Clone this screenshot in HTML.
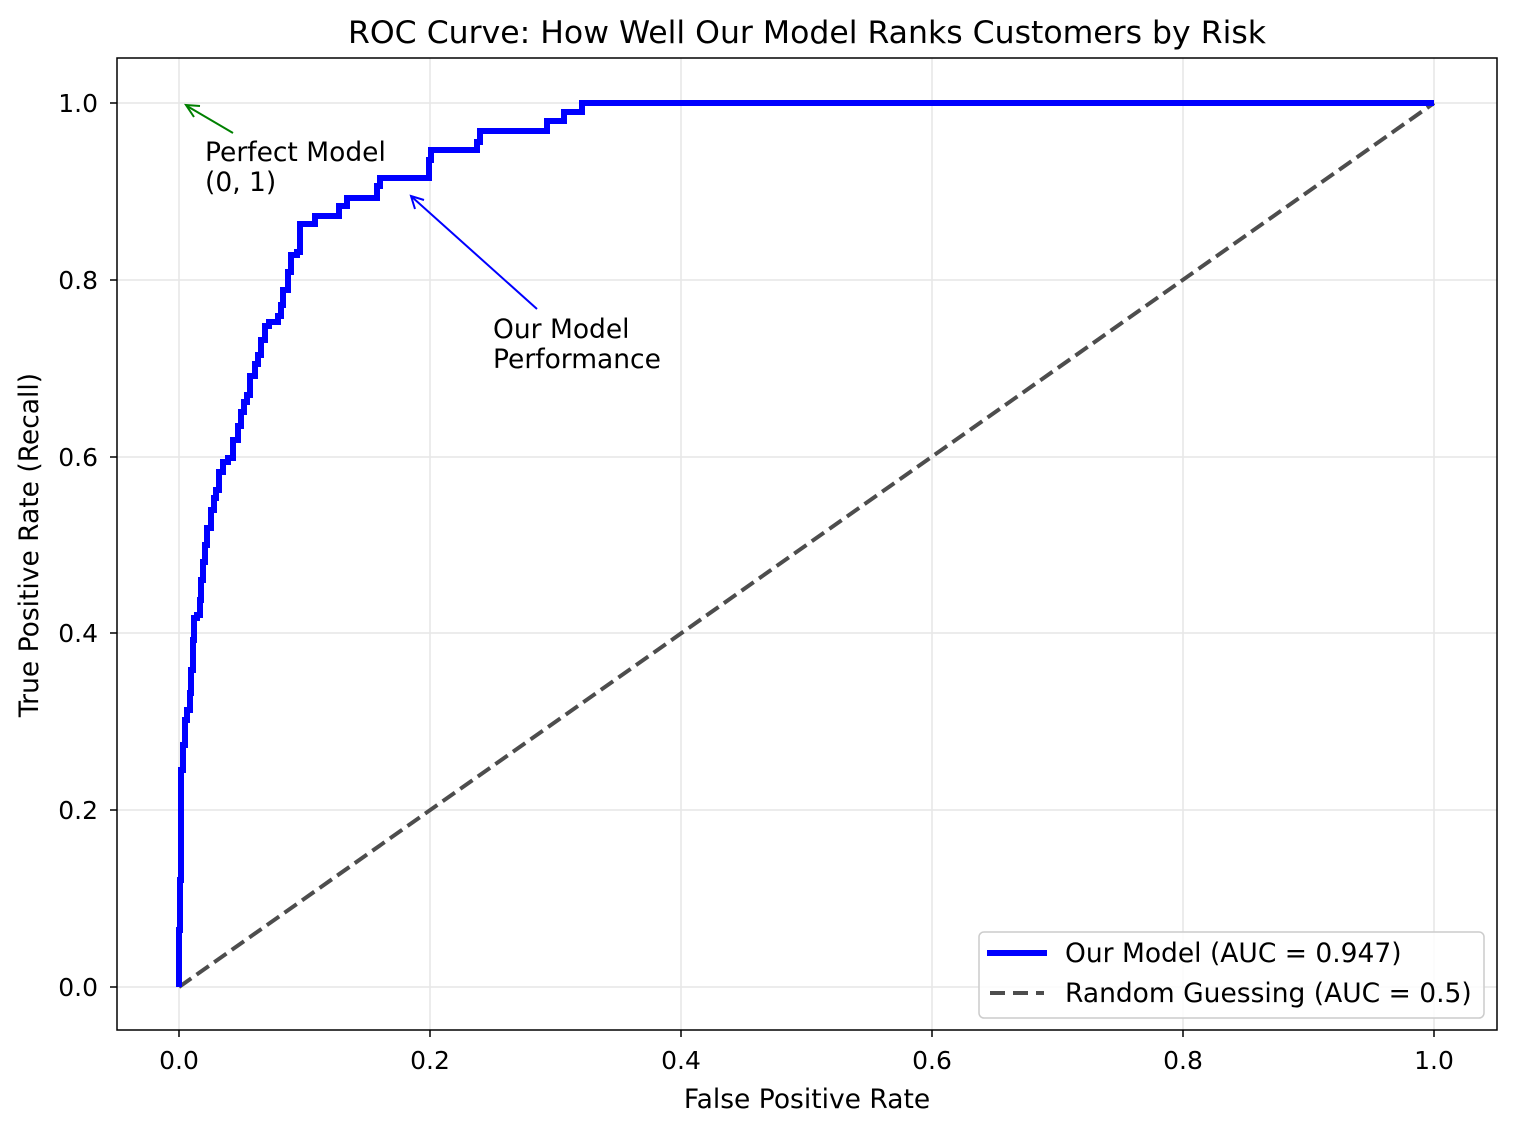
<!DOCTYPE html>
<html><head><meta charset="utf-8"><style>html,body{margin:0;padding:0;background:#fff}</style></head>
<body>
<svg width="1516" height="1132" xmlns="http://www.w3.org/2000/svg" font-family="DejaVu Sans, Liberation Sans, sans-serif">
<rect width="1516" height="1132" fill="#fff"/>
<g stroke="#e6e6e6" stroke-width="1.5">
<line x1="179" y1="58" x2="179" y2="1030"/><line x1="430" y1="58" x2="430" y2="1030"/><line x1="681" y1="58" x2="681" y2="1030"/><line x1="932" y1="58" x2="932" y2="1030"/><line x1="1183" y1="58" x2="1183" y2="1030"/><line x1="1434" y1="58" x2="1434" y2="1030"/>
<line x1="117" y1="987" x2="1497" y2="987"/><line x1="117" y1="810" x2="1497" y2="810"/><line x1="117" y1="633" x2="1497" y2="633"/><line x1="117" y1="457" x2="1497" y2="457"/><line x1="117" y1="280" x2="1497" y2="280"/><line x1="117" y1="103" x2="1497" y2="103"/>
</g>
<line x1="179" y1="987" x2="1434" y2="103" stroke="#4d4d4d" stroke-width="4" stroke-dasharray="15,6.5"/>
<polyline fill="none" stroke="#0000ff" stroke-width="6" stroke-linejoin="miter" points="179,987 179,930 180,930 180,880 181,880 181,770 183,770 183,745 185,745 185,720 187,720 187,710 190,710 190,693 191,693 191,670 193,670 193,640 194,640 194,618 197,618 197,615 200,615 200,600 201,600 201,580 203,580 203,562 205,562 205,545 207,545 207,528 211,528 211,510 214,510 214,498 216,498 216,490 219,490 219,472 223,472 223,462 228,462 228,458 233,458 233,440 238,440 238,426 241,426 241,412 244,412 244,402 247,402 247,395 250,395 250,376 255,376 255,364 258,364 258,355 261,355 261,340 265,340 265,326 269,326 269,322 278,322 278,316 281,316 281,305 283,305 283,290 288,290 288,272 291,272 291,255 297,255 297,252 300,252 300,224 315,224 315,216 339,216 339,206 347,206 347,198 377,198 377,186 380,186 380,178 429,178 429,160 431,160 431,150 477,150 477,142 480,142 480,131 547,131 547,121 564,121 564,112 582,112 582,103 1434,103"/>
<rect x="117" y="58" width="1380" height="972" fill="none" stroke="#000" stroke-width="1.5"/>
<g stroke="#000" stroke-width="1.5">
<line x1="179" y1="1030" x2="179" y2="1037"/><line x1="430" y1="1030" x2="430" y2="1037"/><line x1="681" y1="1030" x2="681" y2="1037"/><line x1="932" y1="1030" x2="932" y2="1037"/><line x1="1183" y1="1030" x2="1183" y2="1037"/><line x1="1434" y1="1030" x2="1434" y2="1037"/>
<line x1="110" y1="987" x2="117" y2="987"/><line x1="110" y1="810" x2="117" y2="810"/><line x1="110" y1="633" x2="117" y2="633"/><line x1="110" y1="457" x2="117" y2="457"/><line x1="110" y1="280" x2="117" y2="280"/><line x1="110" y1="103" x2="117" y2="103"/>
</g>
<g font-size="25" fill="#000" text-anchor="middle">
<text x="179" y="1069">0.0</text><text x="430" y="1069">0.2</text><text x="681" y="1069">0.4</text><text x="932" y="1069">0.6</text><text x="1183" y="1069">0.8</text><text x="1434" y="1069">1.0</text>
</g>
<g font-size="25" fill="#000" text-anchor="end">
<text x="98" y="996">0.0</text><text x="98" y="819">0.2</text><text x="98" y="642">0.4</text><text x="98" y="466">0.6</text><text x="98" y="289">0.8</text><text x="98" y="112">1.0</text>
</g>
<text x="807" y="1108" font-size="26.5" text-anchor="middle">False Positive Rate</text>
<text transform="translate(38,545) rotate(-90)" font-size="26.5" text-anchor="middle">True Positive Rate (Recall)</text>
<text x="807" y="43" font-size="31.5" text-anchor="middle">ROC Curve: How Well Our Model Ranks Customers by Risk</text>
<line x1="233" y1="133" x2="187" y2="106" stroke="#008000" stroke-width="2"/>
<polyline points="200,106 186,105 194,117" fill="none" stroke="#008000" stroke-width="2"/>
<text x="205" y="161" font-size="26.5">Perfect Model</text>
<text x="205" y="191" font-size="26.5">(0, 1)</text>
<line x1="537" y1="309" x2="412" y2="197" stroke="#0000ff" stroke-width="2"/>
<polyline points="424,200 411,196 415,209" fill="none" stroke="#0000ff" stroke-width="2"/>
<text x="493" y="338" font-size="26.5">Our Model</text>
<text x="493" y="368" font-size="26.5">Performance</text>
<rect x="979" y="932" width="505" height="86" rx="5" fill="#fff" fill-opacity="0.8" stroke="#ccc" stroke-width="1.5"/>
<line x1="987" y1="953" x2="1047" y2="953" stroke="#0000ff" stroke-width="6"/>
<line x1="990" y1="993" x2="1044" y2="993" stroke="#4d4d4d" stroke-width="4" stroke-dasharray="15,8"/>
<text x="1065" y="962" font-size="26.5">Our Model (AUC = 0.947)</text>
<text x="1065" y="1002" font-size="26.5">Random Guessing (AUC = 0.5)</text>
</svg>
</body></html>
